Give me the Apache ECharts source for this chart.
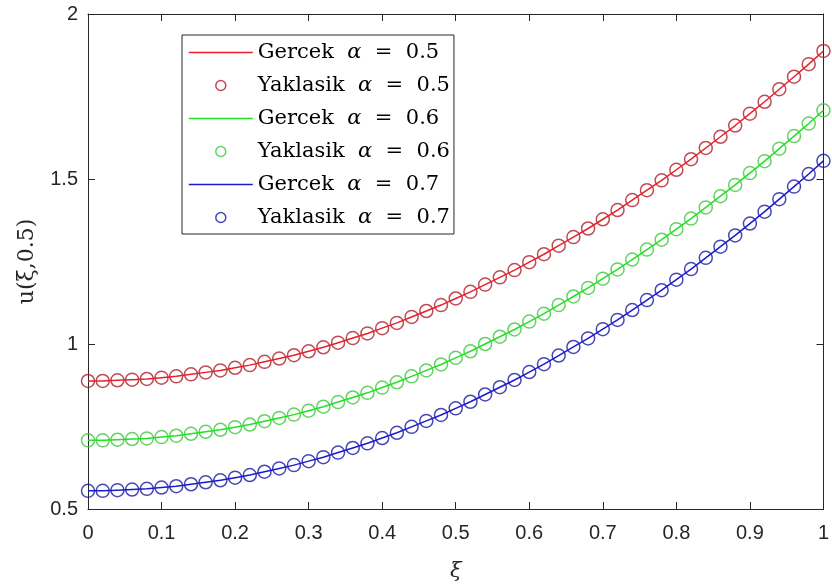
<!DOCTYPE html>
<html>
<head>
<meta charset="utf-8">
<script src="https://cdn.jsdelivr.net/npm/echarts@6/dist/echarts.min.js"></script>
<style>
html,body{margin:0;padding:0;background:#fff;}
#chart{width:832px;height:587px;}
</style>
</head>
<body>
<div id="chart"></div>
<script>
var xi = [0,0.02,0.04,0.06,0.08,0.10,0.12,0.14,0.16,0.18,0.20,0.22,0.24,0.26,0.28,0.30,0.32,0.34,0.36,0.38,0.40,0.42,0.44,0.46,0.48,0.50,0.52,0.54,0.56,0.58,0.60,0.62,0.64,0.66,0.68,0.70,0.72,0.74,0.76,0.78,0.80,0.82,0.84,0.86,0.88,0.90,0.92,0.94,0.96,0.98,1.00];
var uAlpha05 = [0.888,0.888,0.890,0.892,0.894,0.898,0.902,0.908,0.914,0.920,0.928,0.936,0.946,0.956,0.966,0.978,0.990,1.004,1.018,1.032,1.048,1.064,1.082,1.100,1.118,1.138,1.158,1.180,1.202,1.224,1.248,1.272,1.298,1.324,1.350,1.378,1.406,1.436,1.466,1.496,1.528,1.560,1.594,1.628,1.662,1.698,1.734,1.772,1.810,1.848,1.888];
var uAlpha06 = [0.708,0.708,0.710,0.712,0.714,0.718,0.722,0.728,0.734,0.740,0.748,0.756,0.766,0.776,0.786,0.798,0.810,0.824,0.838,0.852,0.868,0.884,0.902,0.920,0.938,0.958,0.978,1.000,1.022,1.044,1.068,1.092,1.118,1.144,1.170,1.198,1.226,1.256,1.286,1.316,1.348,1.380,1.414,1.448,1.482,1.518,1.554,1.592,1.630,1.668,1.708];
var uAlpha07 = [0.555,0.555,0.557,0.559,0.561,0.565,0.569,0.575,0.581,0.587,0.595,0.603,0.613,0.623,0.633,0.645,0.657,0.671,0.685,0.699,0.715,0.731,0.749,0.767,0.785,0.805,0.825,0.847,0.869,0.891,0.915,0.939,0.965,0.991,1.017,1.045,1.073,1.103,1.133,1.163,1.195,1.227,1.261,1.295,1.329,1.365,1.401,1.439,1.477,1.515,1.555];
var seriesNames = ['Gercek α = 0.5','Yaklasik α = 0.5','Gercek α = 0.6','Yaklasik α = 0.6','Gercek α = 0.7','Yaklasik α = 0.7'];
var seriesColors = ['#e8202a','#b01e2a','#22e022','#3cc83c','#1a1ad0','#1a1aa0'];
var xLabels = ['0','0.1','0.2','0.3','0.4','0.5','0.6','0.7','0.8','0.9','1'];
var yLabels = ['0.5','1','1.5','2'];

function pairs(ys){ return xi.map(function(x,i){ return [x, ys[i]]; }); }

var axisColor = '#262626';
var tickFont = {fontFamily:'Liberation Sans, Arial, sans-serif', fontSize:20, color:axisColor};
var serif = "'DejaVu Serif', 'Liberation Serif', serif";

function lineSeries(i, ys){
  var c = seriesColors[i];
  return {name:seriesNames[i], type:'line', data:pairs(ys), showSymbol:false, symbol:'none',
    color:c, lineStyle:{color:c, width:1.5}, itemStyle:{color:c}, z:3, xAxisIndex:0, yAxisIndex:0};
}
function dotSeries(i, ys){
  var c = seriesColors[i];
  return {name:seriesNames[i], type:'scatter', data:pairs(ys), symbol:'circle', symbolSize:13,
    itemStyle:{color:'rgba(0,0,0,0)', borderColor:c, borderWidth:1.5}, z:2, xAxisIndex:0, yAxisIndex:0};
}

var legendData = seriesNames.map(function(n, i){
  if (i % 2 === 0) {
    return {name:n, itemStyle:{opacity:0}, lineStyle:{color:seriesColors[i], width:1.6, opacity:1}};
  }
  return {name:n, itemStyle:{color:'rgba(0,0,0,0)', borderColor:seriesColors[i], borderWidth:1.5}};
});

var chart = echarts.init(document.getElementById('chart'), null, {renderer:'canvas'});
chart.setOption({
  animation:false,
  backgroundColor:'#fff',
  grid:{left:88, right:3, top:14, bottom:76, containLabel:false, show:false},
  legend:{
    orient:'vertical', left:182, top:35,
    itemWidth:64, itemHeight:10, itemGap:0,
    padding:[1,4,0,6],
    borderColor:axisColor, borderWidth:1, backgroundColor:'#fff',
    data:legendData,
    formatter:function(n){
      var p = n.split('α');
      var rest = p[1].replace(' = ', '  =  ');
      return p[0] + ' {a|α}' + rest;
    },
    textStyle:{fontFamily:serif, fontSize:21, lineHeight:33, color:'#000',
      rich:{
        a:{fontFamily:serif, fontStyle:'italic', fontSize:21, lineHeight:33, color:'#000'}
      }}
  },
  xAxis:[{
    type:'value', min:0, max:1, interval:0.1, position:'bottom',
    name:'ξ', nameLocation:'middle', nameGap:52,
    nameTextStyle:{fontFamily:serif, fontStyle:'italic', fontSize:21, color:axisColor},
    axisLine:{show:true, lineStyle:{color:axisColor, width:1}},
    axisTick:{show:true, inside:true, length:7, lineStyle:{color:axisColor}},
    axisLabel:Object.assign({margin:14, formatter:function(v){ var i=Math.round(v*10); return xLabels[i]; }}, tickFont),
    splitLine:{show:false}
  },{
    type:'value', min:0, max:1, interval:0.1, position:'top',
    axisLine:{show:true, onZero:false, lineStyle:{color:axisColor, width:1}},
    axisTick:{show:true, inside:true, length:7, lineStyle:{color:axisColor}},
    axisLabel:{show:false}, splitLine:{show:false}
  }],
  yAxis:[{
    type:'value', min:0.5, max:2, interval:0.5, position:'left',
    name:'u(ξ,0.5)', nameLocation:'middle', nameGap:50, nameRotate:90,
    nameTextStyle:{fontFamily:serif, fontSize:22, color:axisColor},
    axisLine:{show:true, lineStyle:{color:axisColor, width:1}},
    axisTick:{show:true, inside:true, length:7, lineStyle:{color:axisColor}},
    axisLabel:Object.assign({margin:10, formatter:function(v){ var i=Math.round((v-0.5)*2); return yLabels[i]; }}, tickFont),
    splitLine:{show:false}
  },{
    type:'value', min:0.5, max:2, interval:0.5, position:'right',
    axisLine:{show:true, onZero:false, lineStyle:{color:axisColor, width:1}},
    axisTick:{show:true, inside:true, length:7, lineStyle:{color:axisColor}},
    axisLabel:{show:false}, splitLine:{show:false}
  }],
  series:[
    lineSeries(0, uAlpha05),
    dotSeries(1, uAlpha05),
    lineSeries(2, uAlpha06),
    dotSeries(3, uAlpha06),
    lineSeries(4, uAlpha07),
    dotSeries(5, uAlpha07)
  ]
});
</script>
</body>
</html>
